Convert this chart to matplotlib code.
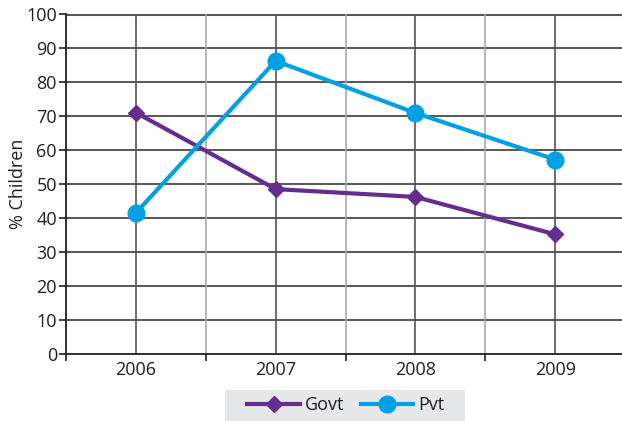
import matplotlib
matplotlib.use("Agg")
import matplotlib.pyplot as plt
from matplotlib.lines import Line2D
from matplotlib.patches import Rectangle

years = ["2006", "2007", "2008", "2009"]
govt = [71, 48.5, 46.2, 35.2]
pvt = [41.5, 86.2, 70.9, 57.2]
yticks = [0, 10, 20, 30, 40, 50, 60, 70, 80, 90, 100]

plt.rcParams['font.family'] = ['Open Sans', 'DejaVu Sans']
FS = 13
TXT = '#231f20'
W, H = 622, 421
fig = plt.figure(figsize=(W/100, H/100), dpi=100)
ax = fig.add_axes([66/W, (H-354)/H, (625-66)/W, (354-14)/H])

x = list(range(len(years)))
ax.set_xlim(-0.5, len(years) - 0.5)
ax.set_ylim(0, 100)

# gridlines
for yv in yticks[1:-1]:
    ax.axhline(yv, color='#3a3a3a', lw=1.2, zorder=1)
ax.axhline(100, color='#555555', lw=2.2, zorder=1)
for xv in x:
    ax.axvline(xv, color='#555555', lw=1.2, zorder=1)
for xv in [i + 0.5 for i in x[:-1]]:
    ax.axvline(xv, color='#aaaaaa', lw=1.2, zorder=1)

ax.plot(x, govt, color='#662d91', lw=3, marker='D', ms=8, zorder=3, label='Govt')
ax.plot(x, pvt, color='#00a0e3', lw=3, marker='o', ms=12, zorder=3, label='Pvt')

for s in ['top', 'right']:
    ax.spines[s].set_visible(False)
for s in ['left', 'bottom']:
    ax.spines[s].set_color(TXT)
    ax.spines[s].set_linewidth(1.3)

ax.set_yticks(yticks)
ax.set_yticklabels([str(v) for v in yticks])
ax.set_xticks(x)
ax.set_xticklabels(years)
ax.set_xticks([i - 0.5 for i in range(len(years) + 1)], minor=True)
ax.tick_params(axis='x', which='major', length=0, pad=5, labelsize=FS, colors=TXT)
ax.tick_params(axis='x', which='minor', length=5, width=1.2, color=TXT)
ax.tick_params(axis='y', length=5, width=1.2, pad=1.5, labelsize=FS, colors=TXT)
ax.set_ylabel('% Children', fontsize=FS, color=TXT)
ax.yaxis.set_label_coords((27 - 66) / 559, 0.5)

# legend background box
fig.patches.append(Rectangle((225/W, 0), (465-225)/W, (H-390)/H,
                             transform=fig.transFigure, facecolor='#e6e7e9',
                             edgecolor='none', zorder=0))
leg = fig.legend(handles=[
    Line2D([], [], color='#662d91', lw=3, marker='D', ms=8),
    Line2D([], [], color='#00a0e3', lw=3, marker='o', ms=12)],
    labels=['Govt', 'Pvt'], loc='center', bbox_to_anchor=(346/W, (H-405)/H),
    ncol=2, frameon=False, fontsize=FS, handlelength=2.9,
    columnspacing=0.9, handletextpad=0.3, borderpad=0.0)
for t in leg.get_texts():
    t.set_color(TXT)

fig.savefig('out.png', dpi=100)
